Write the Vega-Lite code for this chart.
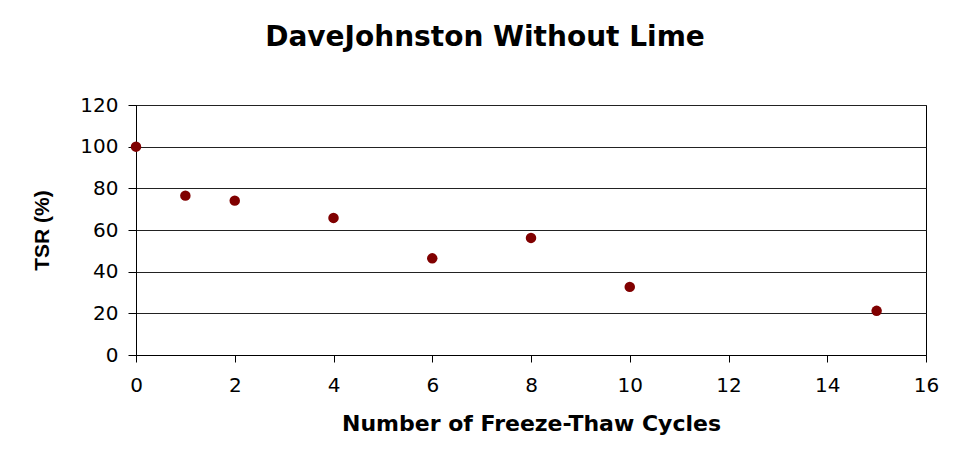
{
  "$schema": "https://vega.github.io/schema/vega-lite/v6.json",
  "autosize": "none",
  "width": 790,
  "height": 250,
  "padding": {"left": 136, "top": 105, "right": 36, "bottom": 110},
  "background": "white",
  "title": {
    "text": "DaveJohnston Without Lime",
    "font": "DejaVu Sans",
    "fontSize": 28,
    "fontWeight": "bold",
    "color": "#000000",
    "anchor": "middle",
    "dx": -46,
    "offset": 43
  },
  "data": {
    "values": [
      {"cycles": 0, "tsr": 100},
      {"cycles": 1, "tsr": 76.5},
      {"cycles": 2, "tsr": 74.1},
      {"cycles": 4, "tsr": 65.8},
      {"cycles": 6, "tsr": 46.4},
      {"cycles": 8, "tsr": 56.2},
      {"cycles": 10, "tsr": 32.7},
      {"cycles": 15, "tsr": 21.2}
    ]
  },
  "mark": {"type": "point", "filled": true, "shape": "circle", "size": 110, "color": "#800000", "opacity": 1},
  "encoding": {
    "x": {
      "field": "cycles",
      "type": "quantitative",
      "scale": {"domain": [0, 16], "nice": false, "zero": true},
      "axis": {
        "title": "Number of Freeze-Thaw Cycles",
        "values": [0, 2, 4, 6, 8, 10, 12, 14, 16],
        "grid": false,
        "tickSize": 7,
        "labelPadding": 13,
        "labelFlush": false,
        "titleFontSize": 22,
        "titlePadding": 18
      }
    },
    "y": {
      "field": "tsr",
      "type": "quantitative",
      "scale": {"domain": [0, 120], "nice": false},
      "axis": {
        "title": "TSR (%)",
        "values": [0, 20, 40, 60, 80, 100, 120],
        "grid": true,
        "tickSize": 8,
        "labelPadding": 10,
        "labelFlush": false,
        "titleFont": "Liberation Sans",
        "titleFontSize": 21,
        "titlePadding": 27
      }
    }
  },
  "config": {
    "view": {"stroke": "#000000", "strokeWidth": 1},
    "axis": {
      "domainColor": "#000000",
      "tickColor": "#000000",
      "gridColor": "#222222",
      "gridOpacity": 1,
      "labelFont": "DejaVu Sans",
      "labelFontSize": 20,
      "labelColor": "#000000",
      "titleFont": "DejaVu Sans",
      "titleFontWeight": "bold",
      "titleColor": "#000000"
    }
  }
}
